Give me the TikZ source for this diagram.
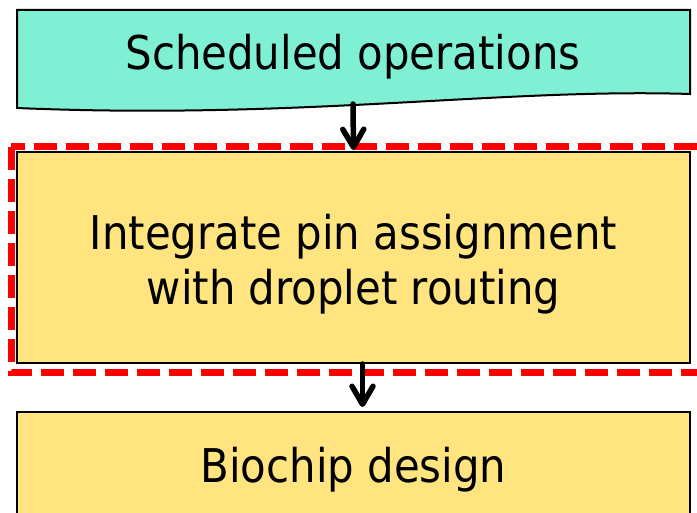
\documentclass[tikz,border=0pt]{standalone}
\usepackage{fontspec}
\setmainfont{DejaVu Sans Condensed}
\usetikzlibrary{arrows.meta}
\definecolor{teal1}{RGB}{127,240,212}
\definecolor{yel1}{RGB}{255,228,128}
\definecolor{red1}{RGB}{255,0,0}
\tikzset{
  boxline/.style={draw=black, line width=2pt},
  ybox/.style={boxline, fill=yel1, minimum width=673pt, inner sep=0pt},
  lbl/.style={font=\fontsize{46.5}{55}\selectfont, align=center, inner sep=0pt},
  arr/.style={line width=5.5pt, line cap=round, -{Straight Barb[length=18pt,width=21pt,round]}},
  hilite/.style={draw=red1, line width=7pt, dash pattern=on 23pt off 9pt}
}
\begin{document}
\begin{tikzpicture}[x=1pt,y=-1pt]
\useasboundingbox (0,0) rectangle (697,513);
\clip (0,0) rectangle (697,513);
\fill[white] (0,0) rectangle (697,513);
% top document shape
\draw[boxline, fill=teal1] (17,10) -- (690,10) -- (690,94)
  .. controls (500,88) and (300,120) .. (17,108) -- cycle;
\node[lbl] (top) at (353,57) {Scheduled operations};
\coordinate (topout) at (353,104);
% red dashed highlight
\draw[hilite] (11,147) rectangle (704,373);
% middle box
\node[ybox, minimum height=211pt] (mid) at (353.5,257.5) {};
\node[lbl] (midtxt) at (353.5,264) {Integrate pin assignment\\with droplet routing};
% bottom box
\node[ybox, minimum height=160pt] (bot) at (353.5,492) {};
\node[lbl] (bottxt) at (353.5,470) {Biochip design};
% arrows
\draw[arr] (topout) -- ([yshift=1pt]mid.north);
\draw[arr] ([xshift=9pt]mid.south) -- ([yshift=4pt,xshift=9pt]bot.north);
\end{tikzpicture}
\end{document}
